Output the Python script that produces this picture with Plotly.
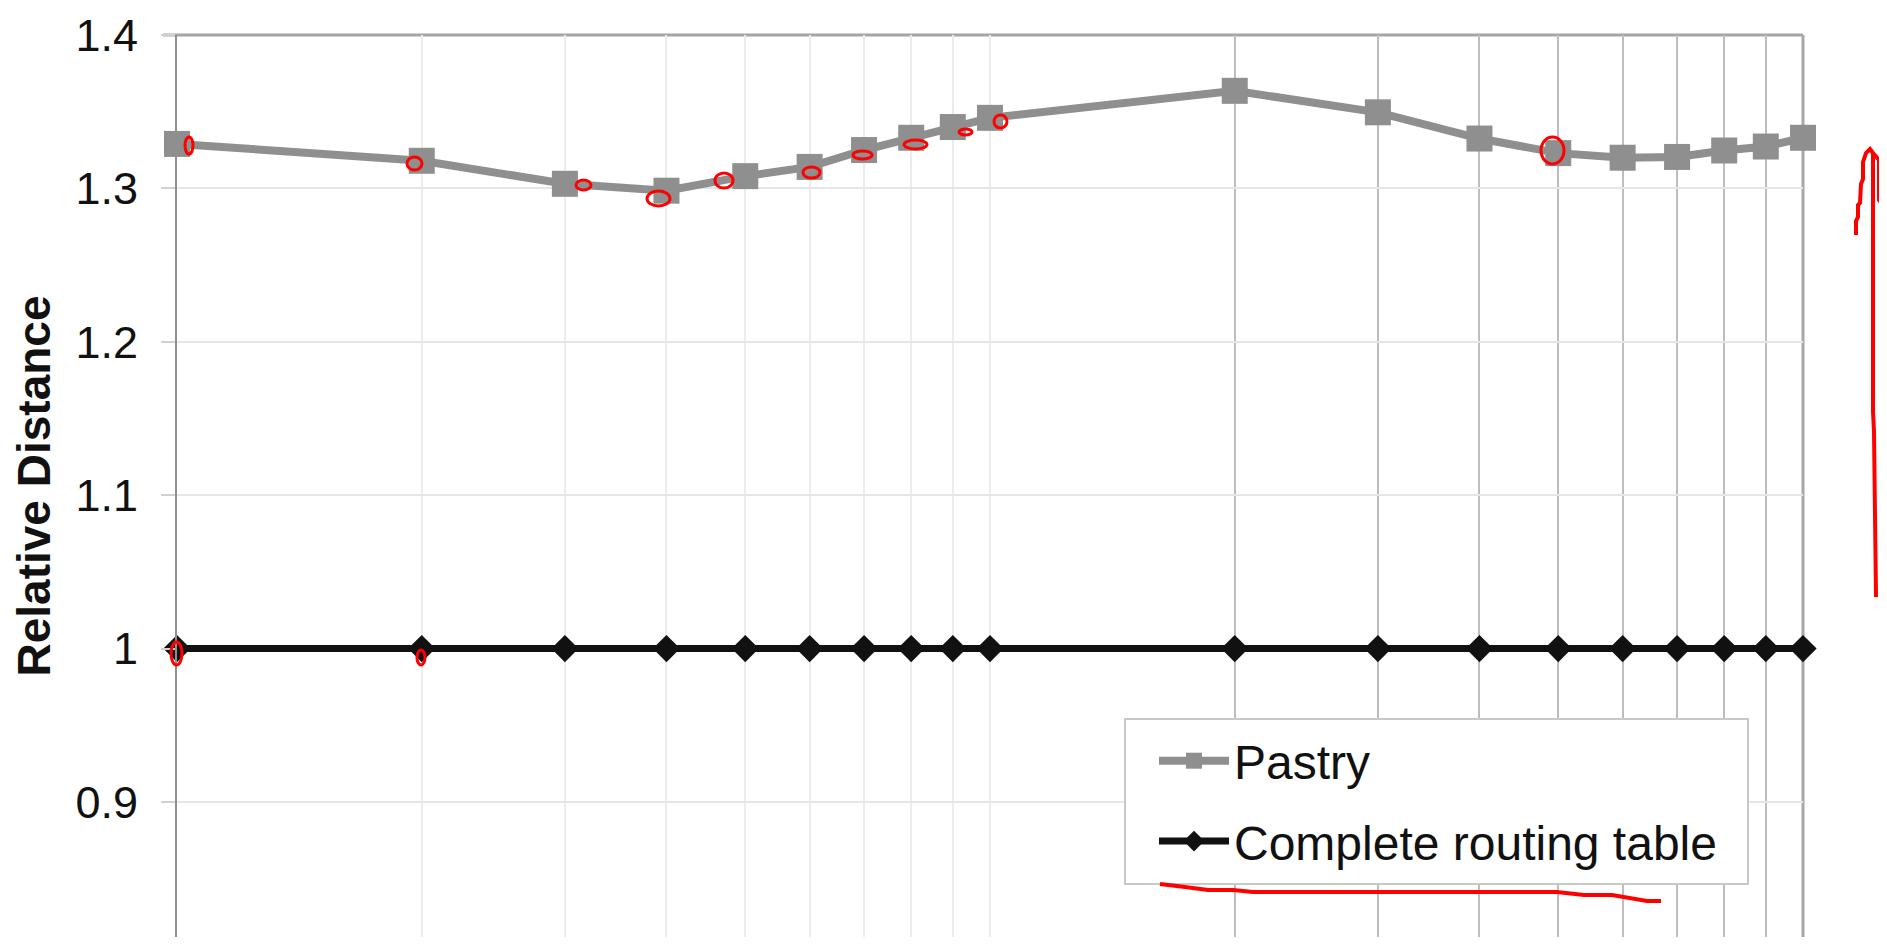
import plotly.graph_objects as go

# ---- data ----
nodes = [1, 2, 3, 4, 5, 6, 7, 8, 9, 10, 20, 30, 40, 50, 60, 70, 80, 90, 100]
pastry = [1.329, 1.318, 1.303, 1.2985, 1.308, 1.314, 1.325, 1.333, 1.340, 1.346,
          1.3636, 1.3496, 1.3325, 1.323, 1.320, 1.3205, 1.3247, 1.3273, 1.333]
complete = [1.0] * len(nodes)
y_tickvals = [0.9, 1.0, 1.1, 1.2, 1.3, 1.4]
y_ticktext = ["0.9", "1", "1.1", "1.2", "1.3", "1.4"]
x_major_grid = [20, 30, 40, 50, 60, 70, 80, 90]
x_minor_grid = [2, 3, 4, 5, 6, 7, 8, 9, 10]

FONT = "Liberation Sans, Arial, Helvetica, sans-serif"

# figure is placed by the page at an 8px body margin
W, H = 1871, 929
ML, MR, MT, MB = 169, 76, 27, 0
PW, PH = W - ML - MR, H - MT - MB


def paper(px, py):
    """page pixel -> paper coords"""
    return (px - 8 - ML) / PW, (H - MB - (py - 8)) / PH


fig = go.Figure()
fig.add_trace(go.Scatter(
    x=nodes, y=pastry, name="Pastry", mode="lines+markers",
    line=dict(color="#8f8f8f", width=8),
    marker=dict(symbol="square", size=26, color="#8f8f8f"),
    cliponaxis=False, legendgroup="a"))
fig.add_trace(go.Scatter(
    x=nodes, y=complete, name="Complete routing table", mode="lines+markers",
    line=dict(color="#111111", width=7),
    marker=dict(symbol="diamond", size=21, color="#111111"),
    cliponaxis=False, legendgroup="b"))

lx, ly = paper(1154, 723)
fig.update_layout(
    width=W, height=H,
    margin=dict(l=ML, r=MR, t=MT, b=MB),
    paper_bgcolor="white", plot_bgcolor="white",
    font=dict(family=FONT, color="#111111"),
    showlegend=True,
    legend=dict(x=lx, y=ly, xanchor="left", yanchor="top",
                bgcolor="rgba(0,0,0,0)", borderwidth=0,
                font=dict(size=48, family=FONT, color="#111111"),
                itemwidth=70, traceorder="grouped", tracegroupgap=15),
    xaxis=dict(type="log", range=[0, 2], showticklabels=False, ticks="",
               tickmode="array", tickvals=x_major_grid,
               showgrid=True, gridcolor="#bdbdbd", gridwidth=2,
               zeroline=False, showline=False,
               minor=dict(tickmode="array", tickvals=x_minor_grid,
                          showgrid=True, gridcolor="#ececec", gridwidth=2, ticks="")),
    yaxis=dict(range=[1.4 - PH / 1534, 1.4], tickmode="array", tickvals=y_tickvals,
               ticktext=y_ticktext, showgrid=True, gridcolor="#e6e6e6", gridwidth=2,
               ticks="outside", ticklen=14, tickwidth=2, tickcolor="#d0d0d0",
               ticklabelstandoff=14,
               tickfont=dict(size=45, family=FONT, color="#111111"),
               showline=True, linecolor="#8f8f8f", linewidth=2, zeroline=False,
               title=dict(text="<b>Relative Distance</b>", standoff=14,
                          font=dict(size=46, family=FONT, color="#111111"))),
)

# plot frame (top and right borders)
fig.add_shape(type="line", xref="paper", yref="paper", x0=-14 / PW, x1=1, y0=1, y1=1,
              line=dict(color="#a5a5a5", width=3), layer="below")
fig.add_shape(type="line", xref="paper", yref="paper", x0=1, x1=1, y0=0, y1=1,
              line=dict(color="#a8a8a8", width=3), layer="below")

# legend box
bx0, by0 = paper(1125, 884)
bx1, by1 = paper(1748, 719)
fig.add_shape(type="rect", xref="paper", yref="paper", x0=bx0, x1=bx1, y0=by0, y1=by1,
              fillcolor="white", line=dict(color="#c8c8c8", width=2), layer="above")


# red hand-drawn marks
def path(points, close=False):
    s = ""
    for i, (a, b) in enumerate(points):
        xx, yy = paper(a, b)
        s += ("M" if i == 0 else "L") + f"{xx:.5f},{yy:.5f} "
    return s + ("Z" if close else "")


RED = "#ff0000"
underline = [(1160, 884), (1185, 887), (1208, 890), (1233, 890), (1253, 892),
             (1557, 892), (1584, 895), (1612, 895), (1647, 901), (1661, 901)]
arrow = [(1876, 597), (1874, 432), (1873, 411), (1873, 153), (1870, 149),
         (1866, 153), (1863, 162), (1863, 179), (1861, 184), (1860, 203),
         (1858, 205), (1858, 217), (1856, 221), (1856, 235)]
hook = [(1873, 153), (1879, 160), (1879, 200), (1881, 203)]
for pts in (underline, arrow, hook):
    fig.add_shape(type="path", xref="paper", yref="paper", path=path(pts),
                  line=dict(color=RED, width=4), layer="above")

small_marks = [(185, 137, 193, 154), (407, 157, 422, 170), (576, 180, 591, 190),
               (647, 191, 670, 206), (715, 173, 733, 188), (803, 167, 820, 178),
               (853, 151, 872, 159), (904, 140, 927, 149), (959, 129, 972, 135),
               (994, 115, 1007, 128), (1541, 137, 1564, 164),
               (171, 642, 182, 665), (417, 650, 425, 665)]
for (a, b, c, d) in small_marks:
    x0, y0 = paper(a, d)
    x1, y1 = paper(c, b)
    fig.add_shape(type="circle", xref="paper", yref="paper", x0=x0, x1=x1, y0=y0, y1=y1,
                  line=dict(color=RED, width=3), layer="above")

fig.write_html("out.html")
